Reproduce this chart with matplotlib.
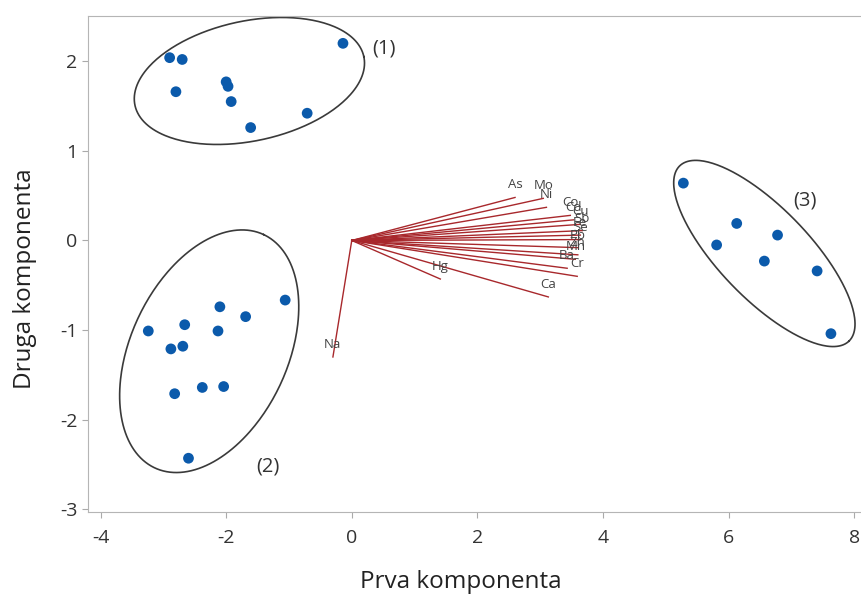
import matplotlib
matplotlib.use("Agg")
import matplotlib.pyplot as plt
import numpy as np

plt.rcParams["font.family"] = ["Open Sans", "DejaVu Sans"]
plt.rcParams["axes.unicode_minus"] = False

# scores (PC1, PC2) per sample group
g1_x = [-0.14, -2.90, -2.70, -2.80, -2.00, -1.97, -1.92, -1.61, -0.71]
g1_y = [2.20, 2.04, 2.02, 1.66, 1.77, 1.72, 1.55, 1.26, 1.42]
g2_x = [-1.06, -2.10, -1.69, -3.24, -2.66, -2.13, -2.69, -2.88, -2.38, -2.04, -2.82, -2.60]
g2_y = [-0.665, -0.74, -0.85, -1.01, -0.94, -1.01, -1.18, -1.21, -1.64, -1.63, -1.71, -2.43]
g3_x = [5.28, 6.13, 5.81, 6.78, 6.57, 7.41, 7.63]
g3_y = [0.64, 0.19, -0.05, 0.06, -0.23, -0.34, -1.04]

# loadings (scaled) for the biplot vectors
elements = ["As", "Mo", "Ni", "Co", "Cd", "Cu", "Sb", "Fe", "Se",
            "Pb", "Zn", "Mn", "Ba", "Cr", "Hg", "Ca", "Na"]
load_x = [2.60, 3.05, 3.10, 3.48, 3.53, 3.64, 3.67, 3.64, 3.64,
          3.60, 3.60, 3.56, 3.43, 3.59, 1.41, 3.13, -0.30]
load_y = [0.48, 0.47, 0.37, 0.28, 0.23, 0.18, 0.11, 0.06, 0.01,
          -0.08, -0.16, -0.21, -0.31, -0.40, -0.43, -0.63, -1.30]

# group outlines: label, centre, semi-axes (x units), angle on screen, label position
groups = ["(1)", "(2)", "(3)"]
ell_cx = [-1.63, -2.27, 6.57]
ell_cy = [1.78, -1.236, -0.145]
ell_a = [1.863, 2.05, 1.94]
ell_b = [0.955, 1.25, 0.72]
ell_ang = [12, 65, -46]
lab_x = [0.51, -1.33, 7.22]
lab_y = [2.14, -2.52, 0.45]

XLIM = (-4.2, 8.3)
YLIM = (-3.03, 2.505)

fig = plt.figure(figsize=(8.61, 5.99), dpi=100)
ax = fig.add_axes([88 / 861, 87 / 599, 785 / 861, 496 / 599])
ax.set_xlim(*XLIM)
ax.set_ylim(*YLIM)

# screen aspect: pixels per data unit in y vs x
bbox = ax.get_window_extent()
r = (bbox.height / (YLIM[1] - YLIM[0])) / (bbox.width / (XLIM[1] - XLIM[0]))

t = np.linspace(0, 2 * np.pi, 300)
for cx, cy, a, b, ang in zip(ell_cx, ell_cy, ell_a, ell_b, ell_ang):
    th = np.deg2rad(ang)
    u, v = a * np.cos(t), b * np.sin(t)
    ex = cx + u * np.cos(th) - v * np.sin(th)
    ey = cy + (u * np.sin(th) + v * np.cos(th)) / r
    ax.plot(ex, ey, color="#3a3a3a", lw=1.2, zorder=2)

for name, lx, ly in zip(elements, load_x, load_y):
    ax.plot([0, lx], [0, ly], color="#a8282c", lw=1.0, zorder=1)
    ax.annotate(name, (lx, ly), xytext=(0, 9), textcoords="offset points",
                ha="center", va="center", fontsize=9.5, color="#444444")

for xs, ys in [(g1_x, g1_y), (g2_x, g2_y), (g3_x, g3_y)]:
    ax.scatter(xs, ys, s=60, color="#0b5aab", edgecolors="none", zorder=3)

for g, lx, ly in zip(groups, lab_x, lab_y):
    ax.text(lx, ly, g, fontsize=14.5, color="#333333", ha="center", va="center")

ax.set_xticks(np.arange(-4, 9, 2))
ax.set_yticks(np.arange(-3, 3, 1))
ax.tick_params(colors="#aaaaaa", labelcolor="#333333", labelsize=14, length=4)
ax.tick_params(axis="x", pad=8)
for s in ax.spines.values():
    s.set_color("#b5b5b5")
ax.set_xlabel("Prva komponenta", fontsize=17.5, color="#222222", va="center")
ax.set_ylabel("Druga komponenta", fontsize=17.5, color="#222222", va="center")
ax.xaxis.set_label_coords(0.475, -0.141)
ax.yaxis.set_label_coords(-0.08, 0.47)

fig.savefig("out.png", dpi=100)
